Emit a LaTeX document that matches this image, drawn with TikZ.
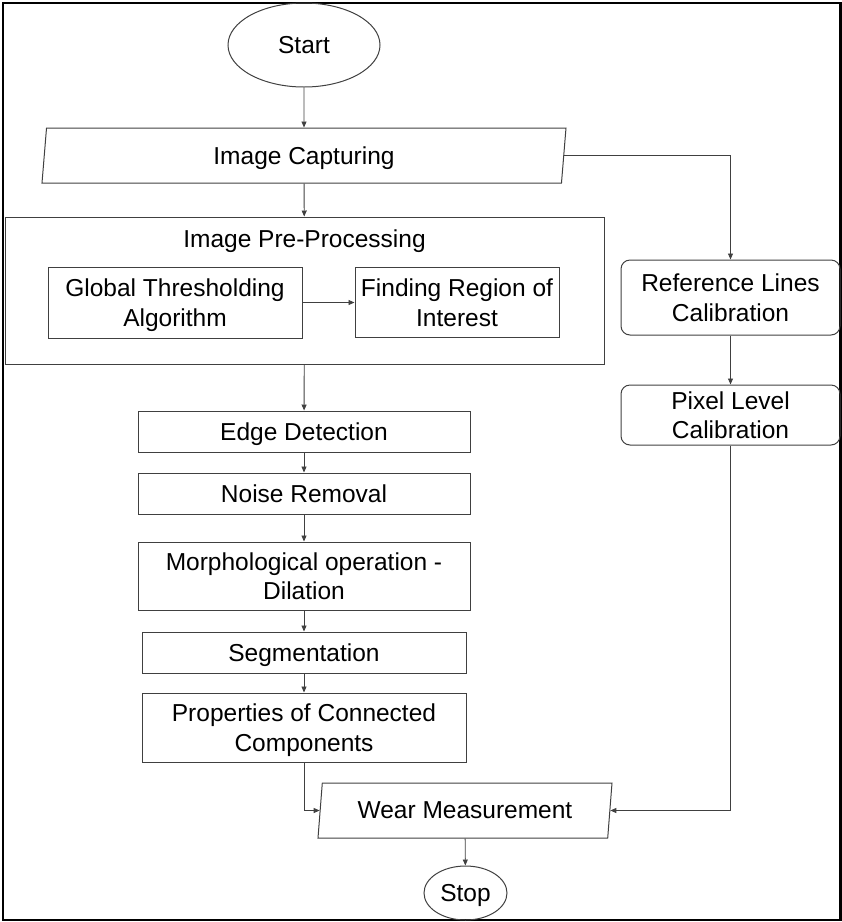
\documentclass[tikz,border=0pt]{standalone}
\usepackage{fontspec}
\setmainfont{Liberation Sans}
\usetikzlibrary{shapes.geometric,arrows.meta}

\begin{document}
\begin{tikzpicture}[x=1pt,y=-1pt,
		every node/.style={inner sep=0pt,align=center,text depth=0pt,font=\fontsize{24.5}{29.5}\selectfont},
		box/.style={draw=black!75,line width=1pt,rectangle,minimum width=332pt},
		roundbox/.style={box,rounded corners=9pt,minimum width=219pt},
		terminal/.style={draw=black!75,line width=1pt,ellipse},
		io/.style={draw=black!75,line width=1pt,trapezium,trapezium stretches body,
			trapezium left angle=75.7,trapezium right angle=104.3,minimum height=55pt},
		link/.style={draw=black!75,line width=0.9pt,-{Triangle[length=6pt,width=5pt]}}]
		\useasboundingbox (0,0) rectangle (842,922);
		\draw [black,line width=2.2pt] (3,3) rectangle (840.5,920);
		% start and input
		\node [terminal,minimum width=152pt,minimum height=84pt] (start) at (304,45) {Start};
		\node [io,minimum width=524pt] (capture) at (304,155.5) {Image Capturing};
		% pre-processing block
		\node [box,minimum width=599pt,minimum height=147pt] (prep) at (304.5,290.5) {};
		\node (preptitle) at (304.5,239) {Image Pre-Processing};
		\node [box,minimum width=254pt,minimum height=71pt] (thresh) at (175,302.5) {Global Thresholding\\Algorithm};
		\node [box,minimum width=204pt,minimum height=70pt] (roi) at (457,302.5) {Finding Region of\\Interest};
		% main column
		\node [box,minimum height=41pt] (edge) at (304,431.5) {Edge Detection};
		\node [box,minimum height=41pt] (noise) at (304,493.5) {Noise Removal};
		\node [box,minimum height=68pt] (morph) at (304,576) {Morphological operation -\\Dilation};
		\node [box,minimum width=324pt,minimum height=41pt] (seg) at (304,652.5) {Segmentation};
		\node [box,minimum width=324pt,minimum height=69pt] (props) at (304,727.5) {Properties of Connected\\Components};
		% calibration column
		\node [roundbox,minimum height=75pt] (refcal) at (730.5,297.5) {Reference Lines\\Calibration};
		\node [roundbox,minimum height=60pt] (pixcal) at (730.5,415) {Pixel Level\\Calibration};
		% output
		\node [io,minimum width=294pt] (wear) at (465,810.5) {Wear Measurement};
		\node [terminal,minimum width=83pt,minimum height=54pt] (stop) at (465.5,893) {Stop};

		\draw [link] (start) -- (capture);
		\draw [link] (capture) -- (prep);
		\draw [link] (capture.east) -| (refcal.north);
		\draw [link] (thresh) -- (roi);
		\draw [link] (prep) -- (edge);
		\draw [link] (edge) -- (noise);
		\draw [link] (noise) -- (morph);
		\draw [link] (morph) -- (seg);
		\draw [link] (seg) -- (props);
		\draw [link] (props.south) |- (wear.west);
		\draw [link] (refcal) -- (pixcal);
		\draw [link] (pixcal.south) |- (wear.east);
		\draw [link] (wear) -- (stop);
	\end{tikzpicture}
\end{document}
